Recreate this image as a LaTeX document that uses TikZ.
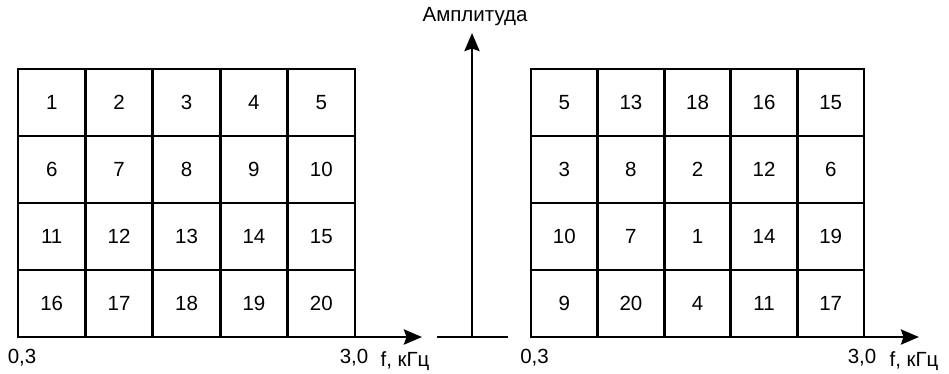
\documentclass[tikz,border=0pt]{standalone}
\usepackage{fontspec}
\setmainfont{Liberation Sans}
\usetikzlibrary{arrows.meta}
\begin{document}
\begin{tikzpicture}[x=1pt,y=-1pt,
  cellbox/.style={draw, line width=2.9pt, inner sep=0pt, outer sep=0pt, minimum width=#1, minimum height=67pt,
    text height=14.5pt, text depth=0pt, font=\fontsize{20.5}{24}\selectfont},
  axisline/.style={line width=2.9pt, -{Stealth[length=18pt,width=15pt,inset=2.5pt]}},
  plainline/.style={line width=2.9pt},
  lbl/.style={anchor=base, inner sep=0pt, font=\fontsize{20.5}{24}\selectfont}]
\useasboundingbox (0,0) rectangle (949,373);
% left grid
\foreach \r in {1,...,4}{
  \foreach \c in {1,...,5}{
    \pgfmathtruncatemacro{\n}{(\r-1)*5+\c}
    \node[cellbox=67.4pt] (L\r\c) at ({18+(\c-0.5)*67.4},{69+(\r-0.5)*67}) {\n};
  }
}
% right grid
\foreach \r/\vals in {1/{5,13,18,16,15},2/{3,8,2,12,6},3/{10,7,1,14,19},4/{9,20,4,11,17}}{
  \foreach \v [count=\c] in \vals{
    \node[cellbox=66.6pt] (R\r\c) at ({531+(\c-0.5)*66.6},{69+(\r-0.5)*67}) {\v};
  }
}
% axes
\coordinate (Lend) at (422,337);
\coordinate (Rend) at (919,337);
\coordinate (Ma) at (437,337);
\coordinate (Mb) at (508,337);
\coordinate (Mfoot) at (472,337);
\coordinate (Mtop) at (472,33);
\draw[axisline] (L41.south west) -- (Lend);
\draw[axisline] (R41.south west) -- (Rend);
\draw[plainline] (Ma) -- (Mb);
\draw[axisline] (Mfoot) -- (Mtop);
% labels
\node[lbl] (amp) at (475,21) {Амплитуда};
\node[lbl] (l03) at (22,363) {0,3};
\node[lbl] (l30) at (354,363) {3,0};
\node[lbl] (lf) at (405,366) {f, кГц};
\node[lbl] (r03) at (534.5,363) {0,3};
\node[lbl] (r30) at (862,363) {3,0};
\node[lbl] (rf) at (914,366) {f, кГц};
\end{tikzpicture}
\end{document}
